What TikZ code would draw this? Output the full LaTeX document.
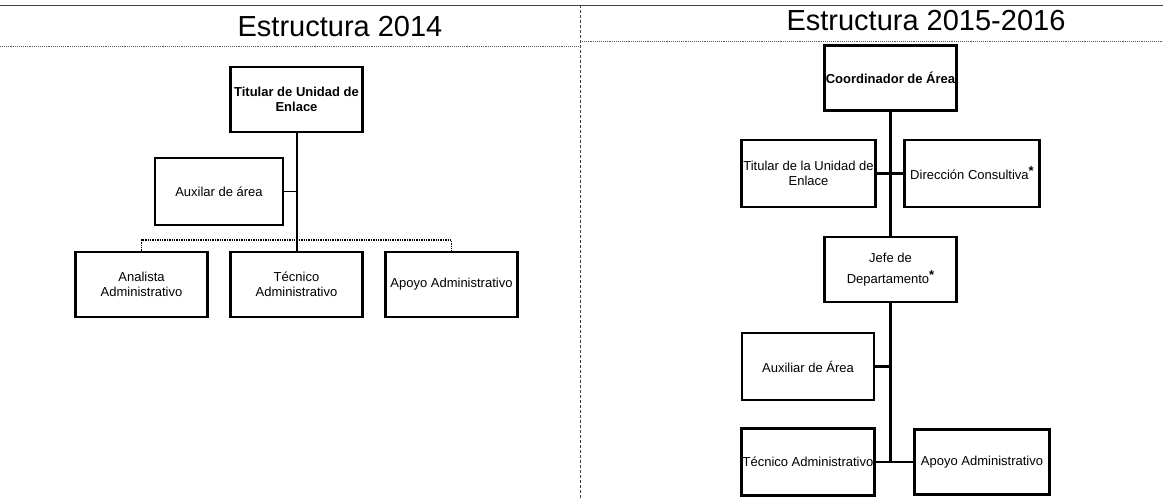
\documentclass[tikz,border=0pt]{standalone}
\usepackage{fontspec}
\setmainfont{Liberation Sans}
\newcommand{\marca}{\raisebox{4pt}{\bfseries *}}
\begin{document}
\begin{tikzpicture}[x=1pt,y=-1pt,
		puesto/.style={draw,line width=2.4pt,minimum width=132pt,minimum height=65pt,inner sep=1pt,align=center,font=\fontsize{13}{15.5}\selectfont},
		jefe/.style={puesto,font=\fontsize{13}{15.5}\selectfont\bfseries},
		titulo/.style={anchor=base,font=\fontsize{29}{33}\selectfont},
		liga/.style={line width=2.4pt},
		bus/.style={line width=1.4pt,densely dotted},
		guia/.style={gray!70!black,densely dotted,line width=0.9pt}]
		\useasboundingbox (0,0) rectangle (1163,498);
		\draw [gray!50!black,line width=0.8pt] (0,5) -- (1163,5);
		\draw [guia] (0,46) -- (580,46);
		\draw [guia] (580,41) -- (1163,41);
		\draw [gray!50!black,densely dashed,line width=0.8pt] (580,5) -- (580,498);
		\node [titulo] (t14) at (340,36) {Estructura 2014};
		\node [titulo] (t1516) at (926,30) {Estructura 2015-2016};
		\node [jefe] (tit14) at (296.5,99.5) {Titular de Unidad de\\Enlace};
		\node [puesto,minimum width=128pt,minimum height=67pt] (aux14) at (219,191.5) {Auxilar de área};
		\node [puesto] (ana14) at (141.5,284.5) {Analista\\Administrativo};
		\node [puesto] (tec14) at (296.5,284.5) {Técnico\\Administrativo};
		\node [puesto] (apo14) at (451.5,284.5) {Apoyo Administrativo};
		\coordinate (bus14) at (296.5,240);
		\draw [liga,line width=2pt] (tit14.south) -- (tec14.north);
		\draw [liga,line width=1.4pt] (aux14.east) -- (aux14.east -| bus14);
		\draw [bus] (ana14.north) -- (ana14.north |- bus14) -- (apo14.north |- bus14) -- (apo14.north);
		\node [jefe] (coord) at (890.5,78) {Coordinador de Área};
		\node [puesto,minimum width=134pt,minimum height=67pt] (titr) at (808.5,173.5) {Titular de la Unidad de\\Enlace};
		\node [puesto,minimum width=135pt,minimum height=67pt] (dir) at (972,173.5) {Dirección Consultiva\marca};
		\node [puesto] (jefr) at (890.5,269.5) {Jefe de\\[6pt]Departamento\marca};
		\node [puesto,minimum height=67pt] (auxr) at (808,366.5) {Auxiliar de Área};
		\node [puesto,minimum height=67pt] (tecr) at (808,462) {Técnico Administrativo};
		\node [puesto,minimum width=135pt] (apor) at (982,462) {Apoyo Administrativo};
		\draw [liga] (coord.south) -- (jefr.north);
		\draw [liga] (titr.east) -- (dir.west);
		\draw [liga] (jefr.south) -- (jefr.south |- tecr.east);
		\draw [liga] (auxr.east) -- (auxr.east -| jefr.south);
		\draw [liga] (tecr.east) -- (apor.west);
\end{tikzpicture}
\end{document}
